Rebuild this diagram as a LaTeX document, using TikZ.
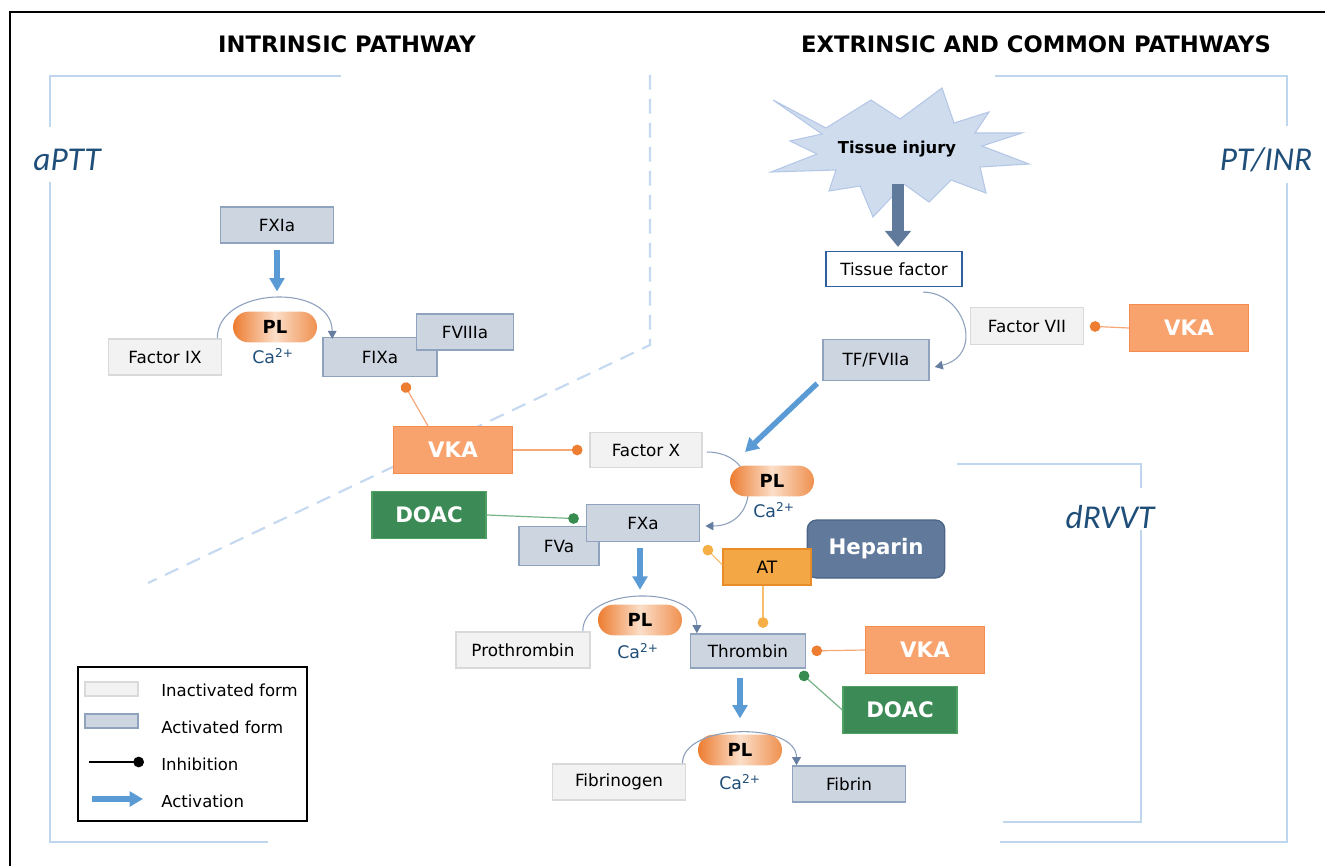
\documentclass[tikz,border=0pt]{standalone}
\usepackage{fontspec}
\setmainfont{DejaVu Sans}
\newfontfamily\calfont{Carlito}
\usetikzlibrary{arrows.meta,shapes.misc}
\definecolor{inFill}{RGB}{242,242,242}
\definecolor{inDraw}{RGB}{217,217,217}
\definecolor{acFill}{RGB}{205,213,224}
\definecolor{acDraw}{RGB}{143,163,191}
\definecolor{vkaFill}{RGB}{248,163,110}
\definecolor{vkaDraw}{RGB}{244,140,80}
\definecolor{doacFill}{RGB}{60,139,86}
\definecolor{doacDraw}{RGB}{80,160,100}
\definecolor{hepFill}{RGB}{97,122,155}
\definecolor{hepDraw}{RGB}{75,100,135}
\definecolor{atFill}{RGB}{243,168,69}
\definecolor{atDraw}{RGB}{232,140,40}
\definecolor{plDark}{RGB}{237,125,49}
\definecolor{plLight}{RGB}{251,222,200}
\definecolor{caBlue}{RGB}{31,78,121}
\definecolor{actBlue}{RGB}{91,155,213}
\definecolor{curLine}{RGB}{140,160,190}
\definecolor{curHead}{RGB}{100,125,160}
\definecolor{brk}{RGB}{190,215,238}
\definecolor{dashC}{RGB}{197,217,241}
\definecolor{burstFill}{RGB}{207,220,238}
\definecolor{burstDraw}{RGB}{180,199,231}
\definecolor{tiArrow}{RGB}{96,122,156}
\definecolor{tfDraw}{RGB}{46,95,158}
\definecolor{dotO}{RGB}{237,125,49}
\definecolor{lineO}{RGB}{246,168,120}
\definecolor{dotG}{RGB}{56,140,80}
\definecolor{lineG}{RGB}{120,180,135}
\definecolor{dotA}{RGB}{245,175,70}
\definecolor{lineA}{RGB}{246,190,110}
\begin{document}
\begin{tikzpicture}[x=0.75pt,y=-0.75pt,
  box/.style={draw, line width=1.2pt, inner sep=0pt, font=\fontsize{12.6}{14}\selectfont, text=black},
  inact/.style={box, fill=inFill, draw=inDraw},
  act/.style={box, fill=acFill, draw=acDraw},
  drug/.style={draw, line width=1pt, inner sep=0pt, font=\bfseries\fontsize{16}{18}\selectfont, text=white},
  vka/.style={drug, fill=vkaFill, draw=vkaDraw, minimum width=89pt, minimum height=35pt},
  doac/.style={drug, fill=doacFill, draw=doacDraw, minimum width=85.5pt, minimum height=35pt},
  plpill/.style={rounded rectangle, minimum width=63pt, minimum height=23pt, inner sep=0pt,
     left color=plDark, right color=plDark!85, middle color=plLight, font=\bfseries\fontsize{13.5}{15}\selectfont},
  ca/.style={text=caBlue, font=\fontsize{13}{14}\selectfont, inner sep=0pt},
  title/.style={font=\bfseries\fontsize{17}{19}\selectfont, inner sep=0pt},
  testlbl/.style={font=\calfont\itshape\fontsize{25}{30}\selectfont, text=caBlue, inner sep=0pt},
  lgtext/.style={font=\fontsize{12.4}{14}\selectfont, inner sep=0pt, anchor=west},
  actarr/.style={draw=actBlue, line width=4pt, -{Triangle[width=11pt,length=10pt]}},
  cur/.style={draw=curLine, line width=0.8pt, -{Triangle[width=6.5pt,length=6pt,color=curHead]}},
  inhO/.style={draw=lineO, line width=0.9pt, -{Circle[length=8pt,color=dotO]}},
  inhG/.style={draw=lineG, line width=0.9pt, -{Circle[length=8pt,color=dotG]}},
  inhA/.style={draw=lineA, line width=0.9pt, -{Circle[length=8pt,color=dotA]}},
  bracket/.style={draw=brk, line width=2pt},
  dashln/.style={draw=dashC, line width=1.6pt, dash pattern=on 11pt off 7pt}
]
\useasboundingbox (0,0) rectangle (1325,866);
\fill[white] (0,0) rectangle (1325,866);
% outer frame
\draw[line width=2pt] (10,866) -- (10,12) -- (1325,12);

% titles
\node[title] (t1) at (347,44) {INTRINSIC PATHWAY};
\node[title] (t2) at (1036,44) {EXTRINSIC AND COMMON PATHWAYS};

% brackets
\draw[bracket] (341,76) -- (50,76) -- (50,127);
\draw[bracket] (50,182) -- (50,842) -- (268,842);
\node[testlbl] (aptt) at (67,160) {aPTT};
\draw[bracket] (995,76) -- (1287,76) -- (1287,126);
\draw[bracket] (1287,183) -- (1287,842) -- (1000,842);
\node[testlbl] (ptinr) at (1266,160) {PT/INR};
\draw[bracket] (957,464) -- (1141,464) -- (1141,488);
\draw[bracket] (1141,530) -- (1141,822) -- (1003,822);
\node[testlbl] (drvvt) at (1110,517) {dRVVT};

% dashed separator
\draw[dashln] (650,75) -- (650,345) -- (148,583);

% ---------------- intrinsic
\node[act, minimum width=84.75pt, minimum height=27pt] (fxia) at (277,225) {FXIa};
\node[inact, minimum width=84.75pt, minimum height=27pt] (f9) at (165,357) {Factor IX};
\node[act, minimum width=85.5pt, minimum height=29pt] (fixa) at (380,357) {FIXa};
\node[act, minimum width=72.75pt, minimum height=27pt] (f8a) at (465,332) {FVIIIa};
\draw[cur] ([shift={(-5,0)}]f9.north east) .. controls +(0,-52) and +(0,-56) .. ([shift={(10,2)}]fixa.north west);
\node[plpill] (pl1) at (275,327) {PL};
\node[ca] (ca1) at (273,356) {Ca\textsuperscript{2+}};
\draw[actarr, shorten <=5pt, shorten >=15pt] (fxia.south) -- (fxia.south |- pl1.north);

% ---------------- extrinsic
\fill[burstFill, draw=burstDraw, line width=0.8pt]
  (773,100) -- (826,128) -- (871,100) -- (900,119) -- (942,88) -- (954,123)
  -- (989,112) -- (975,133) -- (1022,133) -- (982,146) -- (1029,164)
  -- (980,167) -- (986,193) -- (951,180) -- (929,202) -- (904,184)
  -- (873,217) -- (860,186) -- (829,191) -- (836,170) -- (771,172)
  -- (817,154) -- (790,141) -- (822,134) -- cycle;
\node[font=\bfseries\fontsize{12.3}{14}\selectfont, inner sep=0pt] (ti) at (897,149) {Tissue injury};
\node[box, fill=white, draw=tfDraw, minimum width=102pt, minimum height=26pt] (tf) at (894,269) {Tissue factor};
\draw[draw=tiArrow, line width=8.5pt, -{Triangle[width=19pt,length=12pt]}, shorten >=3pt]
  ([shift={(1,27)}]ti.south) -- ([shift={(4,0)}]tf.north);
\node[inact, minimum width=85pt, minimum height=28pt] (f7) at (1027,326) {Factor VII};
\node[vka] (vka4) at (1189,328) {VKA};
\node[act, minimum width=79.5pt, minimum height=31pt] (tfv) at (876,360) {TF/FVIIa};
\draw[cur] ([shift={(29,5)}]tf.south) .. controls +(42,0) and +(50,-12) .. ([shift={(5,7)}]tfv.east);
\draw[inhO, shorten >=4pt] (vka4.west) -- (f7.east);

% ---------------- common
\node[vka] (vka1) at (453,450) {VKA};
\node[inact, minimum width=84pt, minimum height=26pt] (fx) at (646,450) {Factor X};
\node[act, minimum width=60pt, minimum height=29pt] (fva) at (559,546) {FVa};
\node[act, minimum width=85pt, minimum height=28pt] (fxa) at (643,523) {FXa};
\node[doac] (doac1) at (429,515) {DOAC};
\draw[cur] ([shift={(4,2)}]fx.east) .. controls +(55,0) and +(55,0) .. ([shift={(5,3)}]fxa.east);
\node[plpill] (pl2) at (772,481) {PL};
\node[ca] (ca2) at (774,510) {Ca\textsuperscript{2+}};
\draw[actarr] ([shift={(-5,2)}]tfv.south west) -- ([shift={(-27,-29)}]pl2.center);
\draw[inhO, shorten >=5pt] ([shift={(-25,0)}]vka1.north) -- ([shift={(20,0)}]fixa.south);
\draw[inhO, shorten >=5pt] (vka1.east) -- (fx.west);
\draw[inhG, shorten >=5pt] (doac1.east) -- ([shift={(0,-4)}]fxa.west);

\node[draw=hepDraw, fill=hepFill, rounded corners=7pt, line width=1pt, minimum width=103pt, minimum height=43.5pt,
  inner sep=0pt, text=white, font=\bfseries\fontsize{16}{19}\selectfont] (hep) at (876,549) {Heparin};
\node[box, fill=atFill, draw=atDraw, minimum width=66pt, minimum height=27pt, line width=1pt,
  font=\fontsize{12.8}{14}\selectfont] (at) at (767,567) {AT};
\draw[inhA, shorten >=4pt] ([shift={(0,-2)}]at.west) -- ([shift={(0,0)}]fxa.south east);

\node[plpill] (pl3) at (640,620) {PL};
\node[ca] (ca3) at (638,651) {Ca\textsuperscript{2+}};
\draw[actarr, shorten <=4.5pt, shorten >=11pt] (pl3.north |- fxa.south) -- (pl3.north);
\node[inact, minimum width=100.5pt, minimum height=27pt] (proth) at (523,650) {Prothrombin};
\node[act, minimum width=86pt, minimum height=25.5pt] (thr) at (748,651) {Thrombin};
\draw[cur] ([shift={(-8,0)}]proth.north east) .. controls +(0,-46) and +(0,-48) .. ([shift={(7,0)}]thr.north west);
\draw[inhA, shorten >=4pt] ([shift={(-4,0)}]at.south) -- ([shift={(15,0)}]thr.north);
\node[vka] (vka3) at (925,650) {VKA};
\node[doac] (doac2) at (900,710) {DOAC};
\draw[inhO, shorten >=4pt] (vka3.west) -- (thr.east);
\draw[inhG, shorten >=4pt] (doac2.west) -- ([shift={(-10,0)}]thr.south east);

\node[plpill] (pl4) at (740,750) {PL};
\node[ca] (ca4) at (740,782) {Ca\textsuperscript{2+}};
\draw[actarr, shorten <=7pt, shorten >=12pt] (pl4.north |- thr.south) -- (pl4.north);
\node[inact, minimum width=100pt, minimum height=27pt] (fbg) at (619,782) {Fibrinogen};
\node[act, minimum width=85pt, minimum height=27pt] (fib) at (849,784) {Fibrin};
\draw[cur] ([shift={(-4,0)}]fbg.north east) .. controls +(0,-40) and +(0,-44) .. ([shift={(5,0)}]fib.north west);

% ---------------- legend
\node[draw=black, line width=1pt, minimum width=171.75pt, minimum height=115.5pt, inner sep=0pt] (legend) at (192.5,744) {};
\node[inact, line width=0.8pt, minimum width=39.75pt, minimum height=10.5pt] (lg1) at (111.5,689) {};
\node[act, line width=0.8pt, minimum width=39.75pt, minimum height=10.5pt] (lg2) at (111.5,721) {};
\coordinate (li1) at (89,762);
\coordinate (li2) at (144,762);
\draw[black, line width=0.8pt, -{Circle[length=8pt]}] (li1) -- (li2);
\coordinate (la1) at (92,799);
\coordinate (la2) at (143,799);
\draw[actarr] (la1) -- (la2);
\node[lgtext] (lt1) at (161,690) {Inactivated form};
\node[lgtext] (lt2) at (161,727) {Activated form};
\node[lgtext] (lt3) at (161,764) {Inhibition};
\node[lgtext] (lt4) at (161,801) {Activation};
\end{tikzpicture}
\end{document}
